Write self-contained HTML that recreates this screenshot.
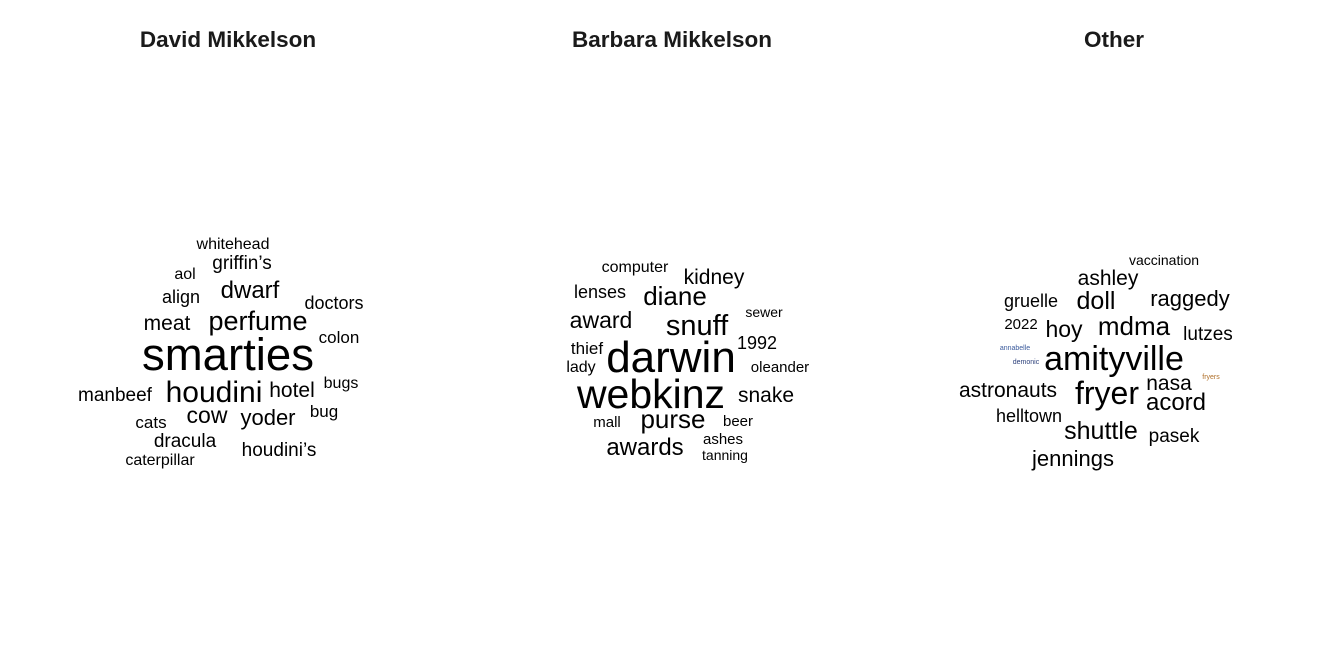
<!DOCTYPE html>
<html><head><meta charset="utf-8"><style>
html,body{margin:0;padding:0;background:#fff}
svg{display:block}
text{font-family:"Liberation Sans",Arial,sans-serif}
</style></head><body>
<svg id="c" width="1344" height="672">
<text x="228" y="47" text-anchor="middle" font-weight="bold" font-size="22.5" fill="#1a1a1a">David Mikkelson</text>
<text x="672" y="47" text-anchor="middle" font-weight="bold" font-size="22.5" fill="#1a1a1a">Barbara Mikkelson</text>
<text x="1114" y="47" text-anchor="middle" font-weight="bold" font-size="22.5" fill="#1a1a1a">Other</text>
</svg>
<script>
// word, center x, baseline y, size, color
const davidWords=["whitehead","griffin’s","aol","dwarf","align","doctors","meat","perfume","colon","smarties","manbeef","houdini","hotel","bugs","cow","yoder","bug","cats","dracula","houdini’s","caterpillar"];
const davidSizes=[16,19,16,24,18,18,21,27,17,45.5,19,30,21,16,23,22,17,17,19,19,16];
const davidX=[233,242,185,250,181,334,167,258,339,228,115,214,292,341,207,268,324,151,185,279,160];
const davidY=[249,269,279,298,303,309,330,330,343,370,401,402,397,388,423,425,417,428,447,456,465];
const barbWords=["computer","kidney","lenses","diane","sewer","award","snuff","thief","darwin","1992","lady","oleander","webkinz","snake","purse","mall","beer","awards","ashes","tanning"];
const barbSizes=[16,21,18,26,14,23,29,17,44,18,16,15,41,21,26,15,15,24,15,14];
const barbX=[635,714,600,675,764,601,697,587,671,757,581,780,651,766,673,607,738,645,723,725];
const barbY=[272,284,298,305,317,328,335,354,372,349,372,372,408,402,428,427,426,455,444,460];
const otherWords=["vaccination","ashley","gruelle","doll","raggedy","2022","hoy","mdma","lutzes","annabelle","demonic","amityville","fryers","astronauts","nasa","fryer","acord","helltown","shuttle","pasek","jennings"];
const otherSizes=[14,21,18,25,22,15,23,26,19,7,7,34,7,21,21,32,24,18,25,19,22];
const otherX=[1164,1108,1031,1096,1190,1021,1064,1134,1208,1015,1026,1114,1211,1008,1169,1107,1176,1029,1101,1174,1073];
const otherY=[265,285,307,309,306,329,337,335,340,350,364,370,379,397,390,404,410,422,439,442,466];
const otherColors={"annabelle":"#3a5a9c","demonic":"#2b3f7a","fryers":"#b0702a"};
const svg=document.getElementById('c');
function draw(words,xs,ys,sizes,group,colors){
  words.forEach((w,i)=>{
    const t=document.createElementNS('http://www.w3.org/2000/svg','text');
    t.setAttribute('x',xs[i]);t.setAttribute('y',ys[i]);
    t.setAttribute('font-size',sizes[i]);t.setAttribute('text-anchor','middle');
    t.setAttribute('fill',(colors&&colors[w])||'#000');
    
    
    t.textContent=w;svg.appendChild(t);
  });
}
draw(davidWords,davidX,davidY,davidSizes,'david');
draw(barbWords,barbX,barbY,barbSizes,'barbara');
draw(otherWords,otherX,otherY,otherSizes,'other',otherColors);
</script>
</body></html>
